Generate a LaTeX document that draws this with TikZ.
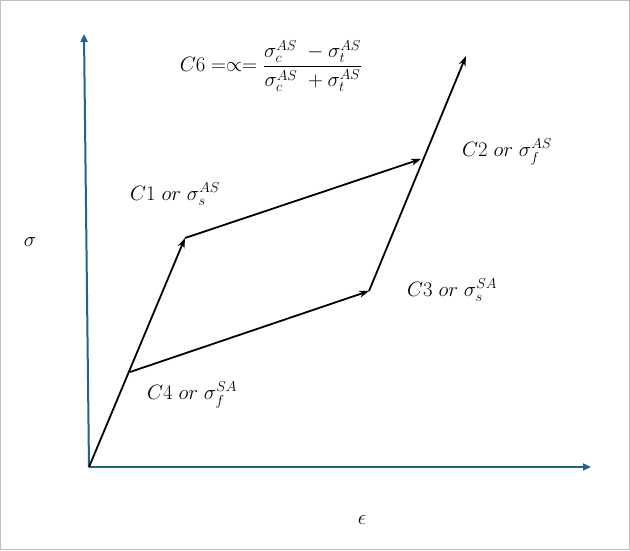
\documentclass[tikz,border=0pt]{standalone}
\usepackage{amsmath}
\usetikzlibrary{arrows.meta}
\begin{document}
\begin{tikzpicture}[x=1pt,y=-1pt,
  axis/.style={draw=axiscol,line width=2pt,-{Triangle[length=8pt,width=7pt]}},
  path/.style={draw=black,line width=1.8pt,-{Stealth[length=10pt,width=7pt]}},
  lab/.style={font=\fontsize{19.5}{23}\selectfont,inner sep=0pt}]
\definecolor{axiscol}{RGB}{31,100,138}
\definecolor{framecol}{RGB}{191,191,191}
\draw[framecol,line width=1pt] (0.5,0.5) rectangle (629.5,549.5);
\useasboundingbox (0,0) rectangle (630,550);
\coordinate (O) at (89,467);
\coordinate (Ytop) at (84,34);
\coordinate (Xend) at (591,467);
\coordinate (C1) at (185,238);
\coordinate (C2) at (421,159);
\coordinate (C3) at (369,291);
\coordinate (C4) at (130,372);
\coordinate (T) at (466,56);
\draw[axis] (O) -- (Ytop);
\draw[axis] (O) -- (Xend);
\draw[path] (O) -- (C1);
\draw[path] (C1) -- (C2);
\draw[path] (C4) -- (C3);
\draw[path] (C3) -- (T);
\node[lab] (f) at (271,66) {$C6 = \propto = \dfrac{\sigma_c^{AS}\ -\sigma_t^{AS}}{\sigma_c^{AS}\ +\sigma_t^{AS}}$};
\node[lab,anchor=west] (l1) at (130,194) {$C1\ or\ \sigma_s^{AS}$};
\node[lab,anchor=west] (l2) at (462,152) {$C2\ or\ \sigma_f^{AS}$};
\node[lab,anchor=west] (l3) at (407,290) {$C3\ or\ \sigma_s^{SA}$};
\node[lab,anchor=west] (l4) at (147,395) {$C4\ or\ \sigma_f^{SA}$};
\node[lab] (s) at (30,242) {$\sigma$};
\node[lab] (e) at (362,520) {$\epsilon$};
\end{tikzpicture}
\end{document}
